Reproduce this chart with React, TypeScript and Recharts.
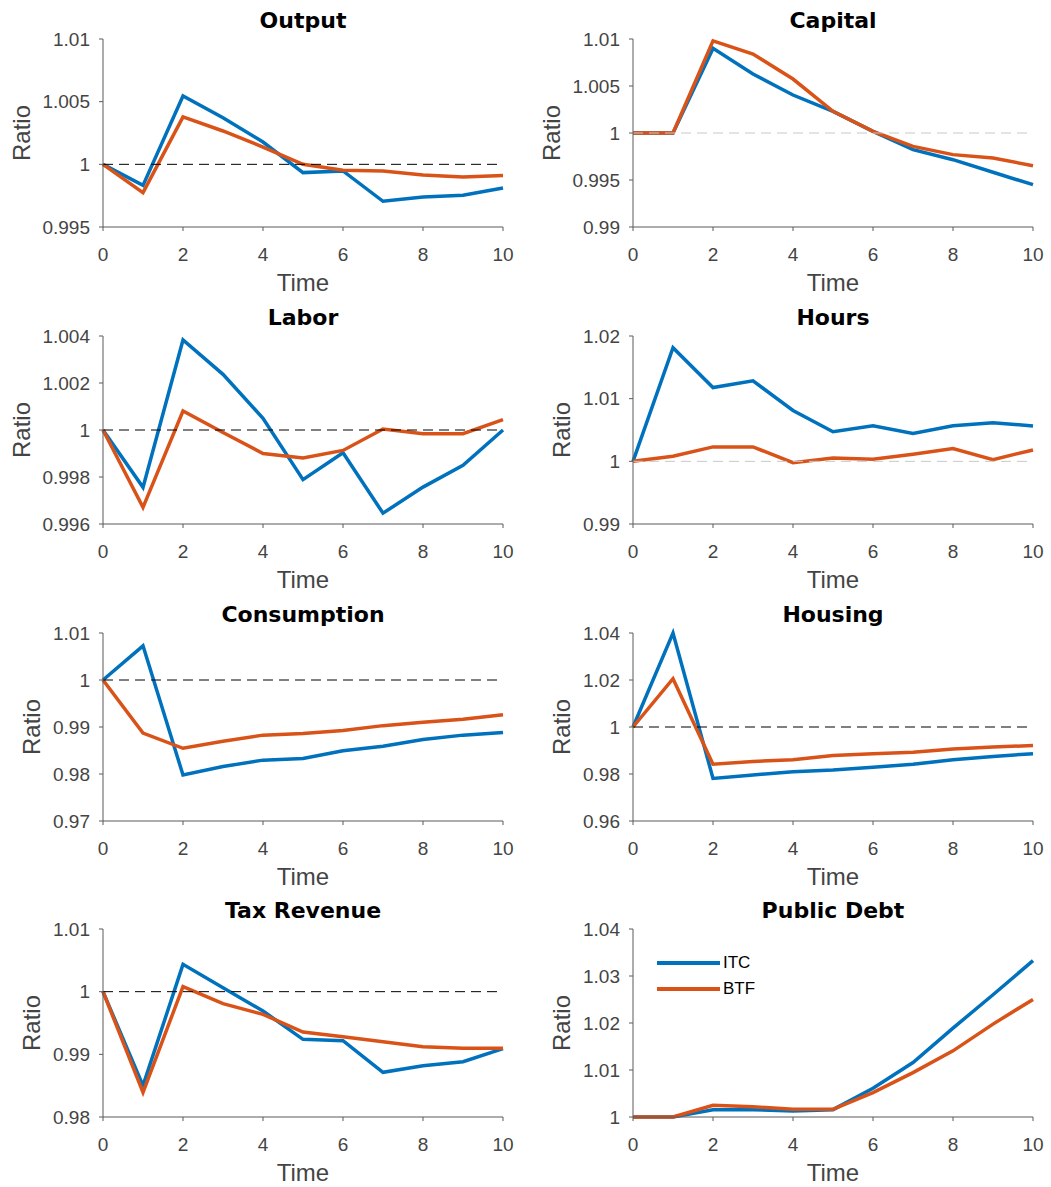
import { LineChart, Line, XAxis, YAxis, ReferenceLine, Legend } from 'recharts'

// time axis and series
const time = [0, 1, 2, 3, 4, 5, 6, 7, 8, 9, 10]
const timeTicks = [0, 2, 4, 6, 8, 10]
const seriesNames = ['ITC', 'BTF']

const outputItc = [1, 0.99832, 1.00545, 1.00372, 1.00178, 0.99934, 0.99947, 0.99705, 0.99739, 0.99753, 0.99811]
const outputBtf = [1, 0.99774, 1.00378, 1.00266, 1.00138, 1.0, 0.99952, 0.99947, 0.99915, 0.99899, 0.9991]
const outputTicks = [0.995, 1, 1.005, 1.01]

const capitalItc = [1, 1, 1.009, 1.00628, 1.00404, 1.0023, 1.00018, 0.99823, 0.99716, 0.99582, 0.9945]
const capitalBtf = [1, 1, 1.0098, 1.0084, 1.00574, 1.0023, 1.00018, 0.99858, 0.9977, 0.99734, 0.99652]
const capitalTicks = [0.99, 0.995, 1, 1.005, 1.01]

const laborItc = [1, 0.99756, 1.00383, 1.00237, 1.0005, 0.99789, 0.99903, 0.99646, 0.99757, 0.9985, 1.0]
const laborBtf = [1, 0.99671, 1.00081, 0.99989, 0.999, 0.99881, 0.99913, 1.00004, 0.99984, 0.99984, 1.00044]
const laborTicks = [0.996, 0.998, 1, 1.002, 1.004]

const hoursItc = [1, 1.01812, 1.01177, 1.01284, 1.00812, 1.00472, 1.00568, 1.00445, 1.00568, 1.00617, 1.00563]
const hoursBtf = [1, 1.0008, 1.0023, 1.0023, 0.99979, 1.00054, 1.00032, 1.00113, 1.00204, 1.00027, 1.00182]
const hoursTicks = [0.99, 1, 1.01, 1.02]

const consumptionItc = [1, 1.00727, 0.97978, 0.98158, 0.98295, 0.9833, 0.98496, 0.9859, 0.98734, 0.98827, 0.98885]
const consumptionBtf = [1, 0.9887, 0.98547, 0.98698, 0.98827, 0.98863, 0.98928, 0.99029, 0.991, 0.99165, 0.99259]
const consumptionTicks = [0.97, 0.98, 0.99, 1, 1.01]

const housingItc = [1, 1.04, 0.97813, 0.9796, 0.981, 0.98173, 0.98288, 0.98417, 0.98604, 0.98748, 0.98863]
const housingBtf = [1, 1.02058, 0.98417, 0.98532, 0.98604, 0.98791, 0.98863, 0.98921, 0.99065, 0.99151, 0.99209]
const housingTicks = [0.96, 0.98, 1, 1.02, 1.04]

const taxItc = [1, 0.985, 1.00436, 1.00064, 0.99691, 0.99239, 0.99218, 0.98713, 0.98819, 0.98883, 0.9909]
const taxBtf = [1, 0.98394, 1.0008, 0.99809, 0.99638, 0.99356, 0.99282, 0.99202, 0.99122, 0.99096, 0.99096]
const taxTicks = [0.98, 0.99, 1, 1.01]

const debtItc = [1, 1, 1.00156, 1.00156, 1.00128, 1.00156, 1.00611, 1.01158, 1.01891, 1.02601, 1.03326]
const debtBtf = [1, 1, 1.00249, 1.0022, 1.00163, 1.00163, 1.00519, 1.00945, 1.01407, 1.01976, 1.02502]
const debtTicks = [1, 1.01, 1.02, 1.03, 1.04]

const ITC_COLOR = '#0072BD'
const BTF_COLOR = '#D95319'
const TEXT = '#444444'
const AXIS = '#5a5a5a'
const SANS = '"Liberation Sans", Arial, Helvetica, sans-serif'
const TITLE_FONT = '"DejaVu Sans", sans-serif'

const PANEL_W = 525
const PANEL_H = 297
const MARGIN = { top: 39, right: 22, bottom: 0, left: 13 }
const Y_AXIS_W = 90
const X_AXIS_H = 70
const PLOT_W = PANEL_W - MARGIN.left - MARGIN.right - Y_AXIS_W

const fmt = (v: number) => String(Number(v.toFixed(4)))

function TimeLabel(props: any) {
  const vb = props.viewBox || { x: 0, y: 0, width: 0 }
  return (
    <text x={vb.x + vb.width / 2} y={vb.y + 64} textAnchor="middle" fontSize={24} fill={TEXT} fontFamily={SANS}>
      Time
    </text>
  )
}

function RatioLabel(props: any) {
  const vb = props.viewBox || { x: 0, y: 0, width: 0, height: 0 }
  const cx = vb.x + vb.width - props.gap + 8.5
  const cy = vb.y + vb.height / 2
  return (
    <text transform={`translate(${cx},${cy}) rotate(-90)`} textAnchor="middle" fontSize={24} fill={TEXT} fontFamily={SANS}>
      Ratio
    </text>
  )
}

function LegendBox(props: any) {
  // keep the plotting order (ITC first), the library sorts by name otherwise
  const items = [...(props.payload || [])].sort(
    (a: any, b: any) => seriesNames.indexOf(a.value) - seriesNames.indexOf(b.value)
  )
  return (
    <div>
      {items.map((entry: any) => (
        <div key={entry.value} style={{ display: 'flex', alignItems: 'center', height: 26 }}>
          <span style={{ display: 'inline-block', width: 63, height: 4, background: entry.color }} />
          <span style={{ marginLeft: 3, fontSize: 17, color: '#000', fontFamily: SANS }}>{entry.value}</span>
        </div>
      ))}
    </div>
  )
}

type PanelProps = {
  title: string
  itc: number[]
  btf: number[]
  yTicks: number[]
  refColor?: string
  showRef?: boolean
  showLegend?: boolean
  left: number
  top: number
}

function Panel({ title, itc, btf, yTicks, refColor = '#000', showRef = true, showLegend = false, left, top }: PanelProps) {
  const rows = time.map((t, i) => ({ t, itc: itc[i], btf: btf[i] }))
  const maxLen = Math.max(...yTicks.map((v) => fmt(v).length))
  const gap = 32 + 10 * maxLen
  return (
    <div style={{ position: 'absolute', left, top, width: PANEL_W, height: PANEL_H }}>
      <div
        style={{
          position: 'absolute',
          left: MARGIN.left + Y_AXIS_W,
          width: PLOT_W,
          top: MARGIN.top - 31,
          lineHeight: '26px',
          textAlign: 'center',
          fontFamily: TITLE_FONT,
          fontWeight: 'bold',
          fontSize: 22,
          color: '#000',
        }}
      >
        {title}
      </div>
      <LineChart width={PANEL_W} height={PANEL_H} data={rows} margin={MARGIN}>
        <XAxis
          dataKey="t"
          type="number"
          domain={[0, 10]}
          ticks={timeTicks}
          interval={0}
          height={X_AXIS_H}
          tickSize={4}
          tickMargin={17}
          stroke={AXIS}
          tick={{ fill: TEXT, fontSize: 19, fontFamily: SANS }}
          label={<TimeLabel />}
        />
        <YAxis
          type="number"
          domain={[yTicks[0], yTicks[yTicks.length - 1]]}
          ticks={yTicks}
          interval={0}
          width={Y_AXIS_W}
          tickSize={4}
          tickMargin={9}
          stroke={AXIS}
          tickFormatter={fmt}
          tick={{ fill: TEXT, fontSize: 19, fontFamily: SANS }}
          label={<RatioLabel gap={gap} />}
        />
        <Line
          type="linear"
          dataKey="itc"
          name={seriesNames[0]}
          stroke={ITC_COLOR}
          strokeWidth={3.5}
          dot={false}
          activeDot={false}
          isAnimationActive={false}
        />
        <Line
          type="linear"
          dataKey="btf"
          name={seriesNames[1]}
          stroke={BTF_COLOR}
          strokeWidth={3.5}
          dot={false}
          activeDot={false}
          isAnimationActive={false}
        />
        {showRef && <ReferenceLine y={1} stroke={refColor} strokeWidth={1} strokeDasharray="10 6" />}
        {showLegend && (
          <Legend
            layout="vertical"
            align="center"
            verticalAlign="middle"
            content={<LegendBox />}
            wrapperStyle={{ left: 127, top: 60, width: 120, height: 52 }}
          />
        )}
      </LineChart>
    </div>
  )
}

const COLS = [0, 530]
const ROWS = [0, 297, 594, 890]

export default function App() {
  return (
    <div style={{ position: 'absolute', left: 0, top: 0, width: 1051, height: 1187, background: '#fff' }}>
      <Panel title="Output" itc={outputItc} btf={outputBtf} yTicks={outputTicks} left={COLS[0]} top={ROWS[0]} />
      <Panel title="Capital" itc={capitalItc} btf={capitalBtf} yTicks={capitalTicks} refColor="#c8c8c8" left={COLS[1]} top={ROWS[0]} />
      <Panel title="Labor" itc={laborItc} btf={laborBtf} yTicks={laborTicks} left={COLS[0]} top={ROWS[1]} />
      <Panel title="Hours" itc={hoursItc} btf={hoursBtf} yTicks={hoursTicks} refColor="#c8c8c8" left={COLS[1]} top={ROWS[1]} />
      <Panel title="Consumption" itc={consumptionItc} btf={consumptionBtf} yTicks={consumptionTicks} left={COLS[0]} top={ROWS[2]} />
      <Panel title="Housing" itc={housingItc} btf={housingBtf} yTicks={housingTicks} left={COLS[1]} top={ROWS[2]} />
      <Panel title="Tax Revenue" itc={taxItc} btf={taxBtf} yTicks={taxTicks} left={COLS[0]} top={ROWS[3]} />
      <Panel title="Public Debt" itc={debtItc} btf={debtBtf} yTicks={debtTicks} showRef={false} showLegend left={COLS[1]} top={ROWS[3]} />
    </div>
  )
}
